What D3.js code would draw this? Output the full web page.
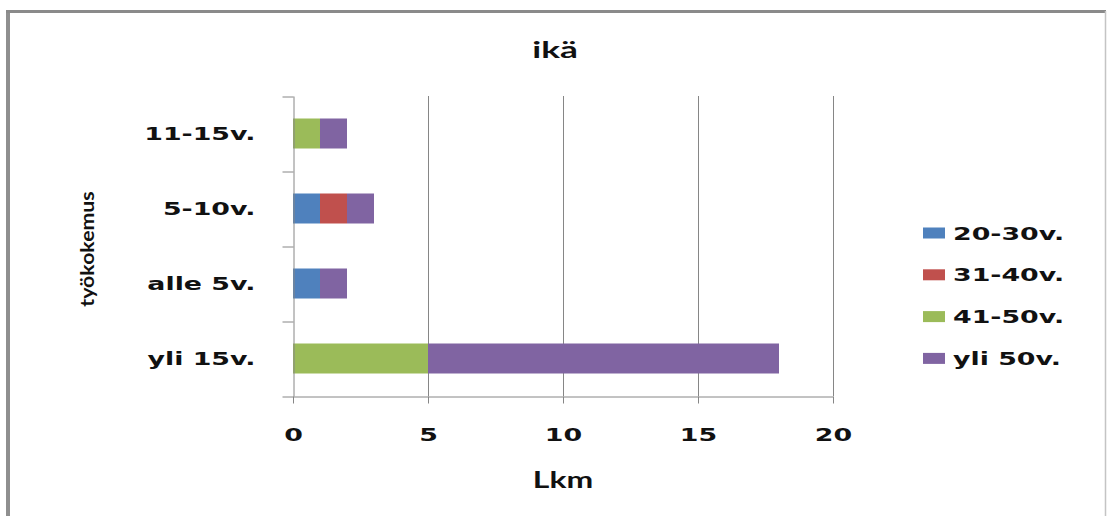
<!DOCTYPE html>
<html>
<head>
<meta charset="utf-8">
<script src="https://cdn.jsdelivr.net/npm/d3@7"></script>
<style>
  html, body { margin: 0; padding: 0; background: #fff; }
  svg { display: block; }
</style>
</head>
<body>
<svg id="chart" width="1107" height="516"></svg>
<script>
// Work experience groups, listed bottom to top
const categories = ["yli 15v.", "alle 5v.", "5-10v.", "11-15v."];
// Age groups (stack order, left to right)
const seriesNames = ["20-30v.", "31-40v.", "41-50v.", "yli 50v."];
const seriesColors = ["#4F81BD", "#C0504D", "#9BBB59", "#8064A2"];
// Counts per age group, aligned with categories
const age20_30 = [0, 1, 1, 0];
const age31_40 = [0, 0, 1, 0];
const age41_50 = [5, 0, 0, 1];
const ageOver50 = [13, 1, 1, 1];
const xTicks = [0, 5, 10, 15, 20];

const seriesValues = [age20_30, age31_40, age41_50, ageOver50];
const rows = categories.map((c, i) => {
  const r = { cat: c };
  seriesNames.forEach((s, j) => { r[s] = seriesValues[j][i]; });
  return r;
});

const svg = d3.select("#chart");
const plot = { left: 293, right: 833, top: 96, bottom: 396 };

const verdanaLike = "'DejaVu Sans', Verdana, sans-serif";
const calibriLike = "Lato, 'Open Sans', sans-serif";
const stretch = 1.45;

// chart frame
svg.append("rect").attr("x", 0).attr("y", 0).attr("width", 1107).attr("height", 516).attr("fill", "#fff");
svg.append("line").attr("x1", 8).attr("x2", 8).attr("y1", 10).attr("y2", 516)
  .attr("stroke", "#8f8f8f").attr("stroke-width", 4);
svg.append("line").attr("x1", 6).attr("x2", 1106).attr("y1", 11.5).attr("y2", 11.5)
  .attr("stroke", "#8a8a8a").attr("stroke-width", 3);
svg.append("line").attr("x1", 1105.5).attr("x2", 1105.5).attr("y1", 11).attr("y2", 516)
  .attr("stroke", "#c4c4c4").attr("stroke-width", 1.5);

const x = d3.scaleLinear().domain([0, 20]).range([plot.left, plot.right]);
const y = d3.scaleBand().domain(categories.slice().reverse())
  .range([plot.top, plot.bottom]).padding(0);
const barH = y.bandwidth() / 2.5;

// vertical gridlines
svg.append("g").selectAll("line")
  .data(xTicks.filter(t => t > 0))
  .join("line")
  .attr("x1", d => x(d) + 0.5).attr("x2", d => x(d) + 0.5)
  .attr("y1", plot.top).attr("y2", plot.bottom)
  .attr("stroke", "#868686").attr("stroke-width", 1);

// stacked bars
const stack = d3.stack().keys(seriesNames);
const layers = stack(rows);
svg.append("g").selectAll("g")
  .data(layers)
  .join("g")
  .attr("fill", (d, i) => seriesColors[i])
  .selectAll("rect")
  .data(d => d.filter(p => p[1] - p[0] > 0))
  .join("rect")
  .attr("x", d => x(d[0]))
  .attr("width", d => x(d[1]) - x(d[0]))
  .attr("y", d => y(d.data.cat) + (y.bandwidth() - barH) / 2)
  .attr("height", barH);

// y axis: labels at band centres, ticks at band edges
const yAxis = svg.append("g")
  .attr("transform", `translate(${plot.left + 0.5},0)`)
  .call(d3.axisLeft(y).tickSizeInner(0).tickSizeOuter(0).tickPadding(38));
yAxis.select(".domain").attr("stroke", "#868686");
yAxis.selectAll("text")
  .attr("font-family", verdanaLike).attr("font-weight", "bold")
  .attr("font-size", 18.5).attr("fill", "#111")
  .attr("dy", "0.36em")
  .attr("transform", function () {
    const tx = +d3.select(this).attr("x");
    return `translate(${tx},0) scale(${stretch},1)`;
  })
  .attr("x", 0);

const edge = d3.scaleLinear().domain([0, categories.length]).range([plot.bottom, plot.top]);
const yEdges = svg.append("g")
  .attr("transform", `translate(${plot.left + 0.5},0.5)`)
  .call(d3.axisLeft(edge).ticks(categories.length).tickSize(11).tickSizeOuter(0).tickFormat(""));
yEdges.select(".domain").remove();
yEdges.selectAll("line").attr("stroke", "#868686");

// x axis
const xAxis = svg.append("g")
  .attr("transform", `translate(0,${plot.bottom + 0.5})`)
  .call(d3.axisBottom(x).tickValues(xTicks).tickSize(7).tickSizeOuter(0).tickPadding(24));
xAxis.select(".domain").attr("stroke", "#868686");
xAxis.selectAll(".tick line").attr("stroke", "#868686");
xAxis.selectAll("text")
  .attr("font-family", verdanaLike).attr("font-weight", "bold")
  .attr("font-size", 18.5).attr("fill", "#111")
  .attr("transform", `scale(${stretch},1)`);

// title
svg.append("text")
  .attr("transform", "translate(555,58) scale(1.6,1)")
  .attr("text-anchor", "middle")
  .attr("font-family", calibriLike).attr("font-weight", "bold")
  .attr("font-size", 22).attr("fill", "#111")
  .text("ikä");

// axis titles
svg.append("text")
  .attr("transform", `translate(${(plot.left + plot.right) / 2},488) scale(1.45,1)`)
  .attr("text-anchor", "middle")
  .attr("font-family", calibriLike).attr("font-weight", "bold")
  .attr("font-size", 22).attr("fill", "#111")
  .text("Lkm");

svg.append("text")
  .attr("transform", "translate(94,249) rotate(-90) scale(1.12,1)")
  .attr("text-anchor", "middle")
  .attr("font-family", calibriLike).attr("font-weight", "bold")
  .attr("font-size", 19).attr("fill", "#111")
  .text("työkokemus");

// legend
const legend = svg.append("g").selectAll("g")
  .data(seriesNames)
  .join("g")
  .attr("transform", (d, i) => `translate(923,${233 + i * 41.8})`);
legend.append("rect")
  .attr("x", 0).attr("y", -5.5).attr("width", 22).attr("height", 11)
  .attr("fill", (d, i) => seriesColors[i]);
legend.append("text")
  .attr("transform", `translate(30,0) scale(${stretch},1)`)
  .attr("dy", "0.36em")
  .attr("font-family", verdanaLike).attr("font-weight", "bold")
  .attr("font-size", 18.5).attr("fill", "#111")
  .text(d => d);
</script>
</body>
</html>
